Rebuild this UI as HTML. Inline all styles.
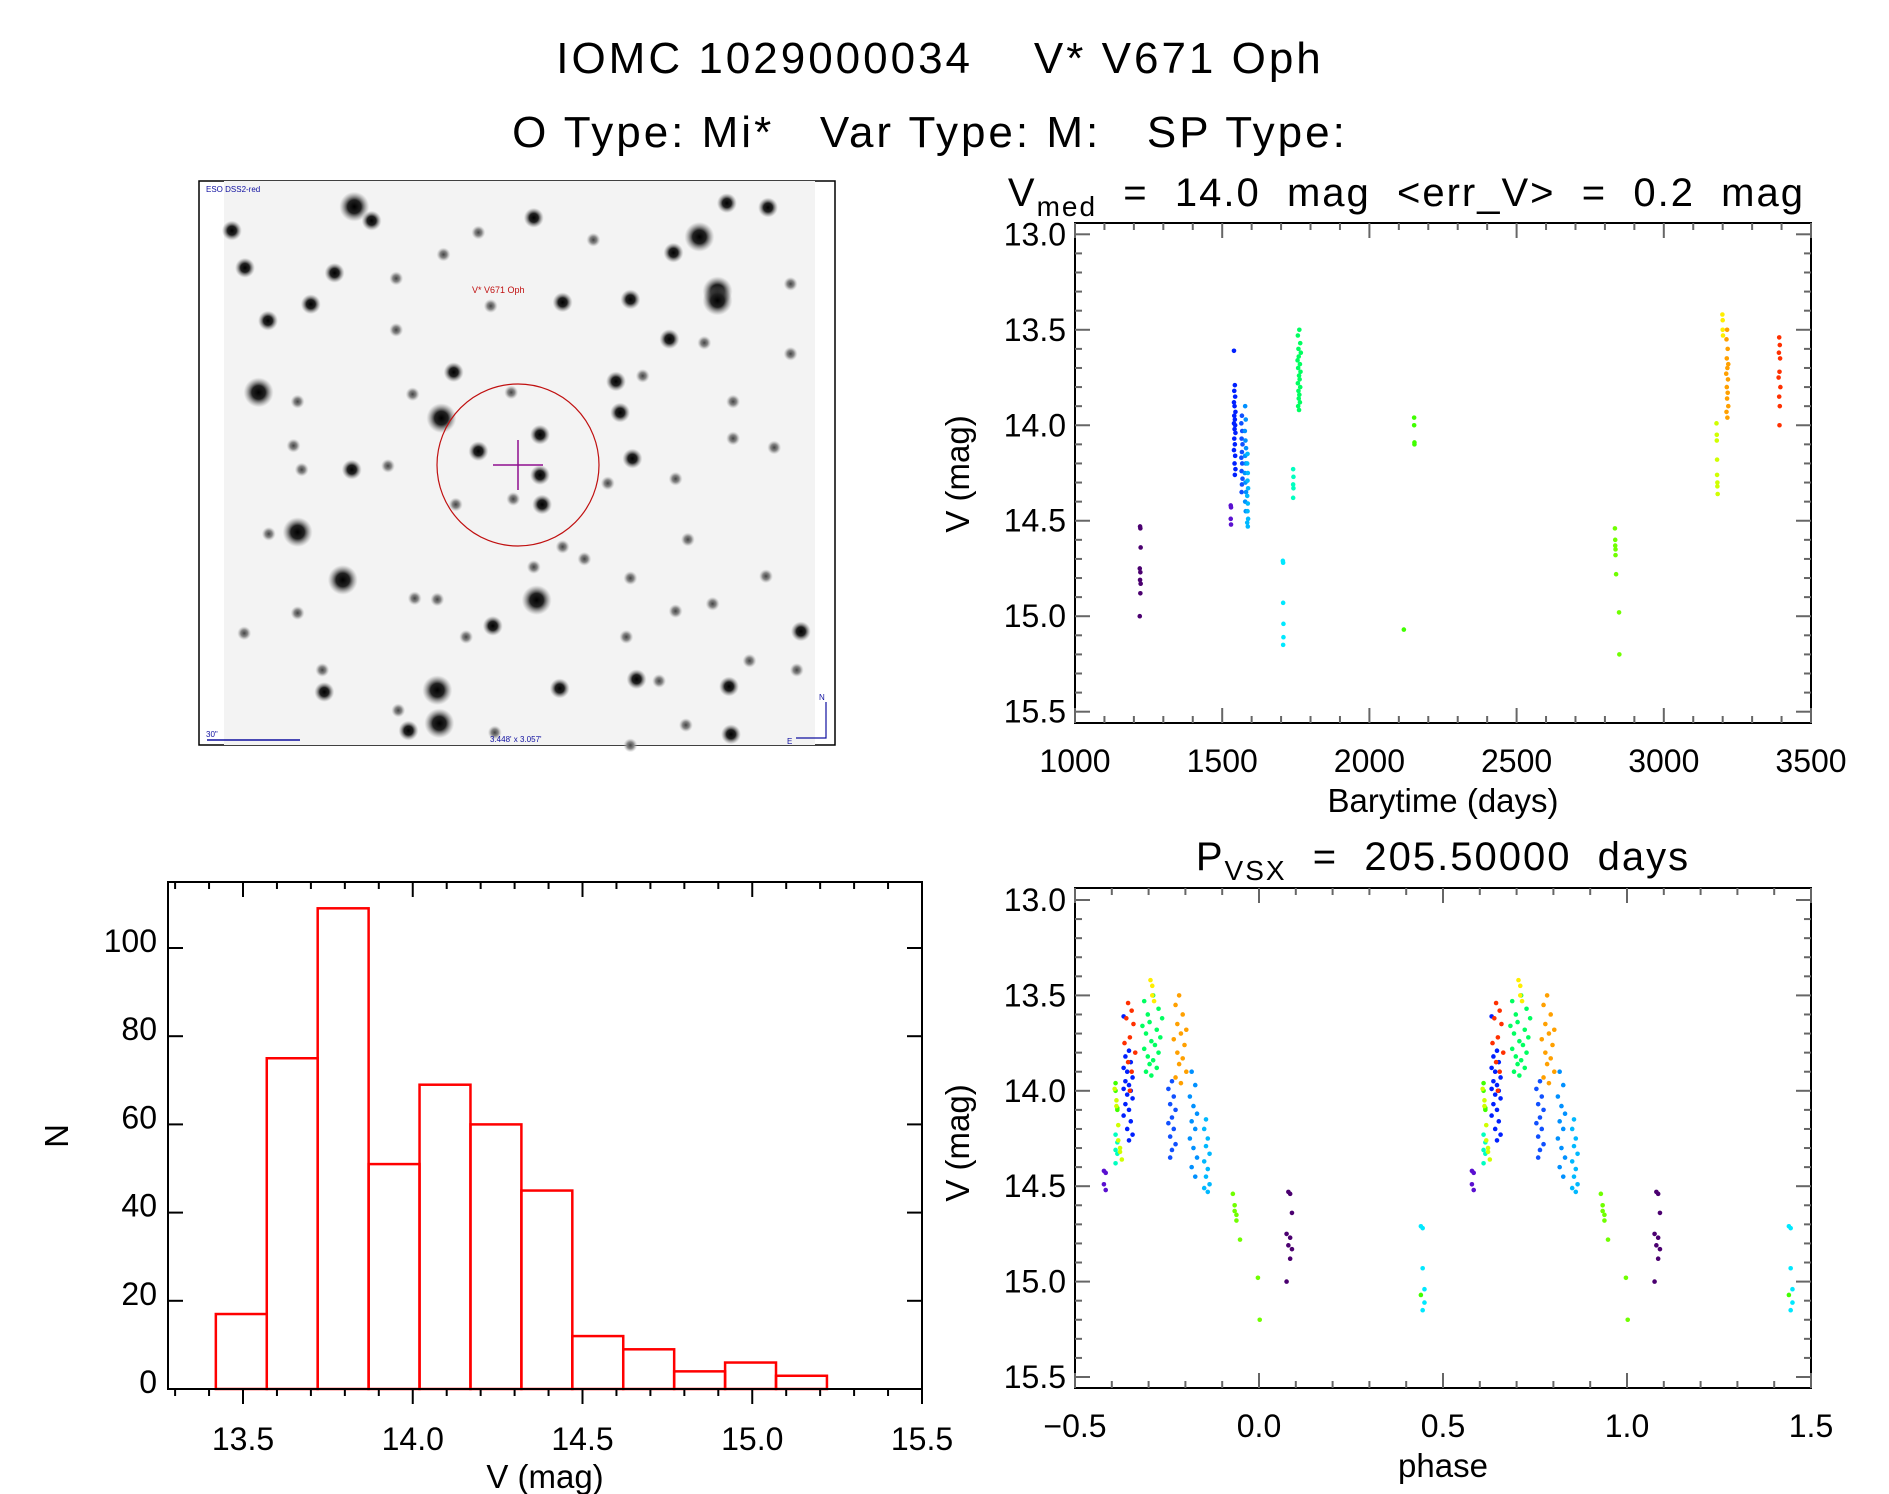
<!DOCTYPE html>
<html><head><meta charset="utf-8"><style>
html,body{margin:0;padding:0;background:#fff;}
svg{display:block;font-family:"Liberation Sans",sans-serif;}
text{white-space:pre;}
</style></head><body>
<svg id="fig" width="1889" height="1494" viewBox="0 0 1889 1494" xmlns="http://www.w3.org/2000/svg">
<defs>
<radialGradient id="starL"><stop offset="0" stop-color="#000"/><stop offset="0.45" stop-color="#222"/><stop offset="1" stop-color="#888" stop-opacity="0"/></radialGradient>
<radialGradient id="starS"><stop offset="0" stop-color="#444"/><stop offset="0.5" stop-color="#888"/><stop offset="1" stop-color="#bbb" stop-opacity="0"/></radialGradient>
</defs>
<text x="940" y="73" font-size="44" text-anchor="middle" letter-spacing="3" xml:space="preserve">IOMC 1029000034    V* V671 Oph</text>
<text x="930" y="147" font-size="44" text-anchor="middle" letter-spacing="3" xml:space="preserve">O Type: Mi*   Var Type: M:   SP Type:</text>
<g id="img"></g>
<g id="lc"></g>
<g id="ph"></g>
<g id="hi"></g>
</svg>
<script>
// ---- data ----
const period = 205.5;
const epoch = 1204.6;
const groupColors = ['#4b0070','#5a10d0','#0020ff','#1050ff','#0090ff','#00b8ff','#00e8ff','#00ffc0','#00ff60','#40ff00','#40ff00','#70ff00','#d0ff00','#ffee00','#ffa000','#ff3000'];
const groupTimes = [
 [1221,1222,1223,1220,1222,1221,1223,1222,1220],
 [1529,1530,1529,1530],
 [1540,1543,1541,1544,1540,1542,1545,1541,1543,1540,1544,1542,1545,1541,1543,1540,1544,1542,1545,1543],
 [1567,1565,1568,1566,1569,1567,1565,1568,1566,1569,1567,1566],
 [1578,1580,1577,1579,1581,1578,1580,1577,1579,1581,1578,1580],
 [1586,1585,1587,1586,1588,1585,1587,1586,1588,1585,1587],
 [1706,1707,1707,1708,1708,1707],
 [1741,1742,1741,1742,1741],
 [1762,1757,1765,1759,1767,1760,1756,1764,1758,1766,1761,1763,1757,1765,1759,1762,1760,1764,1758,1761],
 [2152,2152,2153,2153],
 [2117],
 [2834,2835,2835,2836,2836,2838,2848,2849],
 [3179,3180,3180,3181,3181,3182,3182,3183],
 [3199,3200,3200,3201],
 [3215,3213,3217,3214,3219,3216,3212,3218,3214,3217,3215,3219,3213,3216],
 [3392,3394,3391,3395,3393,3390,3396,3392,3394,3393]
];
const groupMags = [
 [14.53,14.54,14.64,14.75,14.77,14.81,14.83,14.88,15.0],
 [14.42,14.43,14.49,14.52],
 [13.61,13.79,13.82,13.85,13.88,13.9,13.93,13.95,13.97,13.99,14.0,14.02,14.04,14.07,14.1,14.13,14.16,14.2,14.23,14.26],
 [13.95,13.99,14.03,14.07,14.1,14.14,14.17,14.2,14.24,14.28,14.31,14.35],
 [13.9,13.97,14.03,14.08,14.12,14.16,14.2,14.25,14.3,14.35,14.4,14.45],
 [14.15,14.2,14.25,14.29,14.33,14.37,14.41,14.45,14.49,14.51,14.53],
 [14.71,14.72,14.93,15.04,15.11,15.15],
 [14.23,14.27,14.31,14.33,14.38],
 [13.5,13.53,13.57,13.6,13.62,13.64,13.66,13.68,13.7,13.72,13.74,13.76,13.78,13.8,13.82,13.84,13.86,13.88,13.9,13.92],
 [13.96,14.0,14.09,14.1],
 [15.07],
 [14.54,14.6,14.63,14.65,14.68,14.78,14.98,15.2],
 [13.99,14.05,14.08,14.18,14.26,14.3,14.32,14.36],
 [13.42,13.45,13.5,13.53],
 [13.5,13.55,13.6,13.65,13.68,13.7,13.73,13.76,13.8,13.83,13.86,13.9,13.93,13.96],
 [13.54,13.58,13.62,13.65,13.72,13.75,13.8,13.85,13.9,14.0]
];
const histEdges = [13.42,13.57,13.72,13.87,14.02,14.17,14.32,14.47,14.62,14.77,14.92,15.07,15.22];
const histCounts = [17,75,109,51,69,60,45,12,9,4,6,3];
const lcXTicks = ['1000','1500','2000','2500','3000','3500'];
const magTicks = ['13.0','13.5','14.0','14.5','15.0','15.5'];
const phXTicks = ['\u22120.5','0.0','0.5','1.0','1.5'];
const hiXTicks = ['13.5','14.0','14.5','15.0','15.5'];
const hiYTicks = ['0','20','40','60','80','100'];

const NS='http://www.w3.org/2000/svg';
function mk(parent,tag,attrs,text){const e=document.createElementNS(NS,tag);for(const k in attrs)e.setAttribute(k,attrs[k]);if(text!==undefined)e.textContent=text;parent.appendChild(e);return e;}
function lin(d0,d1,r0,r1){return v=>r0+(v-d0)/(d1-d0)*(r1-r0);}

// ---- sky image ----
(function(){
 const g=document.getElementById('img');
 mk(g,'rect',{x:199,y:181,width:636,height:564,fill:'#fff',stroke:'#000','stroke-width':1.5});
 mk(g,'rect',{x:224,y:181,width:591,height:564,fill:'#f3f3f3'});
 const stars=[[378,70,2],[420,108,1],[80,135,1],[1285,60,1],[1385,72,1],[1218,152,2],[1155,195,1],[112,236,1],[330,250,1],[480,265,0],[815,100,1],[680,140,0],[1262,300,2],[1262,325,2],[272,335,1],[885,330,1],[1050,322,1],[710,340,0],[168,380,1],[1145,430,1],[480,405,0],[145,575,2],[590,645,2],[620,520,1],[1015,545,1],[760,575,0],[1025,630,1],[680,735,1],[830,690,1],[830,800,1],[372,785,1],[250,785,0],[835,880,1],[765,865,0],[995,822,0],[1055,755,1],[240,955,2],[170,960,0],[350,1085,2],[822,1140,2],[525,1135,0],[580,1138,0],[240,1175,0],[715,1210,1],[650,1240,0],[1190,975,0],[938,1028,0],[1380,1075,0],[1465,1225,1],[580,1385,2],[585,1475,2],[305,1390,1],[878,1380,1],[1065,1355,1],[1290,1375,1],[1455,1330,0],[510,1495,1],[1295,1505,1],[1050,1535,0],[1400,725,0],[1160,810,0],[1300,700,0],[230,720,0],[485,1440,0],[885,995,0],[240,600,0],[460,775,0],[1050,1080,0],[1250,1150,0],[1340,1305,0],[1185,1480,0],[1040,1240,0],[625,880,0],[815,1050,0],[595,200,0],[1440,280,0],[1230,440,0],[1080,530,0],[1160,1170,0],[110,1230,0],[300,1330,0],[1440,470,0],[1300,600,0],[520,580,0],[960,160,0],[1120,1360,0],[720,1500,0]];
 const rad=[7,10,15];
 stars.forEach(s=>{
  const c=mk(g,'circle',{cx:(s[0]/2.434+199).toFixed(1),cy:(s[1]/2.72+181).toFixed(1),r:rad[s[2]],fill:s[2]?'url(#starL)':'url(#starS)'});
  
  
 });
 mk(g,'ellipse',{cx:518,cy:465,rx:81,ry:81,fill:'none',stroke:'#c01010','stroke-width':1.2,});
 mk(g,'path',{d:'M493 465 H543 M518 440 V490',stroke:'#901090','stroke-width':1.5,fill:'none',});
 mk(g,'text',{x:472,y:293,'font-size':9,fill:'#c01010',},'V* V671 Oph');
 mk(g,'text',{x:206,y:192,'font-size':8,fill:'#1010a0',},'ESO DSS2-red');
 mk(g,'text',{x:206,y:737,'font-size':8,fill:'#1010a0',},'30"');
 mk(g,'line',{x1:207,y1:740,x2:300,y2:740,stroke:'#1010a0','stroke-width':1.5});
 mk(g,'text',{x:490,y:742,'font-size':8,fill:'#1010a0',},"3.448' x 3.057'");
 mk(g,'path',{d:'M796 738 H826 V702',stroke:'#1010a0','stroke-width':1.2,fill:'none'});
 mk(g,'text',{x:819,y:700,'font-size':8,fill:'#1010a0'},'N');
 mk(g,'text',{x:787,y:744,'font-size':8,fill:'#1010a0'},'E');
})();

// ---- generic axes ----
function frame(g,L,R,T,B){mk(g,'rect',{x:L,y:T,width:R-L,height:B-T,fill:'none',stroke:'#000','stroke-width':2});}
function vTicks(g,L,R,sy,lo,hi,major,minor,labels,labX){
 for(let v=lo;v<=hi+1e-9;v+=minor){const y=sy(v);const isMaj=Math.abs(v/major-Math.round(v/major))<1e-6;const len=isMaj?15:7;
  mk(g,'line',{x1:L,y1:y,x2:L+len,y2:y,stroke:'#666','stroke-width':2});
  mk(g,'line',{x1:R,y1:y,x2:R-len,y2:y,stroke:'#666','stroke-width':2});}
 labels.forEach((t,i)=>{const v=lo+i*major;const e=mk(g,'text',{x:labX,y:sy(v)+11,'font-size':32,'text-anchor':'end'},t);});
}
function hTicks(g,T,B,sx,lo,hi,major,minor,labels,labY,outward){
 for(let v=lo;v<=hi+1e-9;v+=minor){const x=sx(v);const isMaj=Math.abs(v/major-Math.round(v/major))<1e-6;const len=isMaj?15:7;
  if(outward)mk(g,'line',{x1:x,y1:B,x2:x,y2:B+len,stroke:'#000','stroke-width':2});
  else mk(g,'line',{x1:x,y1:B,x2:x,y2:B-len,stroke:'#666','stroke-width':2});
  mk(g,'line',{x1:x,y1:T,x2:x,y2:T+len,stroke:'#666','stroke-width':2});}
 labels.forEach((t,i)=>{const v=lo+i*major;const e=mk(g,'text',{x:sx(v),y:labY,'font-size':32,'text-anchor':'middle'},t);});
}

// ---- light curve ----
(function(){
 const g=document.getElementById('lc');
 const L=1075,R=1811,T=223,B=723;
 const sx=lin(1000,3500,L,R), sy=lin(13.0,15.5,234.3,711.7);
 frame(g,L,R,T,B);
 vTicks(g,L,R,sy,13.0,15.5,0.5,0.1,magTicks,1066);
 hTicks(g,T,B,sx,1000,3500,500,100,lcXTicks,772,false);
 groupTimes.forEach((ts,gi)=>ts.forEach((t,i)=>{
  const c=mk(g,'circle',{cx:sx(t),cy:sy(groupMags[gi][i]),r:2.3,fill:groupColors[gi]});
  
  
 }));
 const tt=mk(g,'text',{x:1805,y:206,'font-size':40,'text-anchor':'end','letter-spacing':2,});
 tt.innerHTML='V<tspan font-size="28" dy="10">med</tspan><tspan dy="-10">  =  14.0  mag  &lt;err_V&gt;  =  0.2  mag</tspan>';
 mk(g,'text',{x:1443,y:812,'font-size':33,'text-anchor':'middle',},'Barytime (days)');
 mk(g,'text',{x:0,y:0,'font-size':33,'text-anchor':'middle',transform:'translate(969,474) rotate(-90)',},'V (mag)');
})();

// ---- phase plot ----
(function(){
 const g=document.getElementById('ph');
 const L=1075,R=1811,T=888,B=1388;
 const sx=lin(-0.5,1.5,L,R), sy=lin(13.0,15.5,900,1377);
 frame(g,L,R,T,B);
 vTicks(g,L,R,sy,13.0,15.5,0.5,0.1,magTicks,1066);
 hTicks(g,T,B,sx,-0.5,1.5,0.5,0.1,phXTicks,1437,false);
 groupTimes.forEach((ts,gi)=>ts.forEach((t,i)=>{
  let p=(t-epoch)/period; p=p-Math.floor(p); if(p>=0.5)p-=1;
  [p,p+1].forEach(q=>{
   const c=mk(g,'circle',{cx:sx(q),cy:sy(groupMags[gi][i]),r:2.3,fill:groupColors[gi]});
   
   
  });
 }));
 const tt=mk(g,'text',{x:1443,y:870,'font-size':40,'text-anchor':'middle','letter-spacing':2,});
 tt.innerHTML='P<tspan font-size="28" dy="10">VSX</tspan><tspan dy="-10">  =  205.50000  days</tspan>';
 mk(g,'text',{x:1443,y:1477,'font-size':33,'text-anchor':'middle',},'phase');
 mk(g,'text',{x:0,y:0,'font-size':33,'text-anchor':'middle',transform:'translate(969,1143) rotate(-90)',},'V (mag)');
})();

// ---- histogram ----
(function(){
 const g=document.getElementById('hi');
 const L=168,R=922,T=882,B=1389;
 const sx=lin(13.5,15.5,243,922), sy=lin(0,100,1389,948);
 histCounts.forEach((n,i)=>{
  const x0=sx(histEdges[i]),x1=sx(histEdges[i+1]);
  const r=mk(g,'rect',{x:x0,y:sy(n),width:x1-x0,height:sy(0)-sy(n),fill:'none',stroke:'#ff0000','stroke-width':2.5});
  
  
 });
 frame(g,L,R,T,B);
 for(let v=0;v<=100;v+=20){const y=sy(v);
  mk(g,'line',{x1:L,y1:y,x2:L+15,y2:y,stroke:'#000','stroke-width':2});
  mk(g,'line',{x1:R,y1:y,x2:R-15,y2:y,stroke:'#000','stroke-width':2});}
 hiYTicks.forEach((t,i)=>{const e=mk(g,'text',{x:157,y:sy(i*20)+4,'font-size':32,'text-anchor':'end'},t);});
 for(let v=13.3;v<=15.5+1e-9;v+=0.1){const x=sx(v);const isMaj=Math.abs(v*2-Math.round(v*2))<1e-6;const len=isMaj?15:7;
  mk(g,'line',{x1:x,y1:B,x2:x,y2:B+len,stroke:'#000','stroke-width':2});
  mk(g,'line',{x1:x,y1:T,x2:x,y2:T+len,stroke:'#000','stroke-width':2});}
 hiXTicks.forEach((t,i)=>{const e=mk(g,'text',{x:sx(13.5+i*0.5),y:1450,'font-size':32,'text-anchor':'middle'},t);});
 mk(g,'text',{x:545,y:1488,'font-size':33,'text-anchor':'middle',},'V (mag)');
 mk(g,'text',{x:0,y:0,'font-size':33,'text-anchor':'middle',transform:'translate(68,1136) rotate(-90)',},'N');
})();
</script>
</body></html>
